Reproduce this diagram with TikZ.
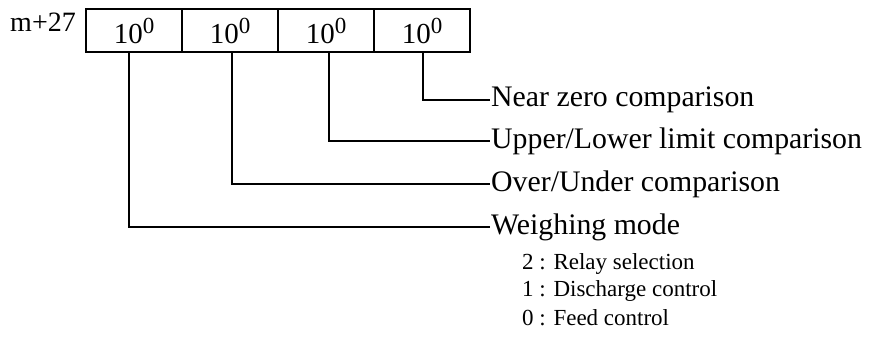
\documentclass[tikz,border=0pt]{standalone}
\usepackage{fontspec}
\setmainfont{Liberation Serif}
\newcommand{\tenzero}{10\raisebox{10pt}{\fontsize{23}{24}\selectfont 0}}
\begin{document}
\begin{tikzpicture}[x=1pt,y=-1pt,
  cell/.style={draw,line width=2pt,minimum width=96pt,minimum height=43pt,inner sep=0pt,anchor=north west,font=\fontsize{29}{32}\selectfont},
  lbl/.style={anchor=west,inner sep=1pt,font=\fontsize{29.8}{32}\selectfont},
  sub/.style={anchor=west,inner sep=0pt,font=\fontsize{23}{26}\selectfont},
  wire/.style={line width=2pt}]
\useasboundingbox (0,0) rectangle (872,347);
\node[anchor=east,inner sep=0pt,font=\fontsize{28}{32}\selectfont] (addr) at (76,22) {m+27};
\node[cell] (c1) at (85,8) {\tenzero};
\node[cell] (c2) at (181,8) {\tenzero};
\node[cell] (c3) at (277,8) {\tenzero};
\node[cell] (c4) at (373,8) {\tenzero};
\node[lbl] (l4) at (490,100) {Near zero comparison};
\node[lbl] (l3) at (490,141) {Upper/Lower limit comparison};
\node[lbl] (l2) at (490,184) {Over/Under comparison};
\node[lbl] (l1) at (490,227) {Weighing mode};
\node[sub] (s2) at (522,264) {2 : Relay selection};
\node[sub] (s1) at (522,291) {1 : Discharge control};
\node[sub] (s0) at (522,318) {0 : Feed control};
\draw[wire] (c4.south west) ++(50,0) coordinate (p4) |- (l4.west);
\draw[wire] (c3.south west) ++(52,0) coordinate (p3) |- (l3.west);
\draw[wire] (c2.south west) ++(51,0) coordinate (p2) |- (l2.west);
\draw[wire] (c1.south west) ++(44,0) coordinate (p1) |- (l1.west);
\end{tikzpicture}
\end{document}
